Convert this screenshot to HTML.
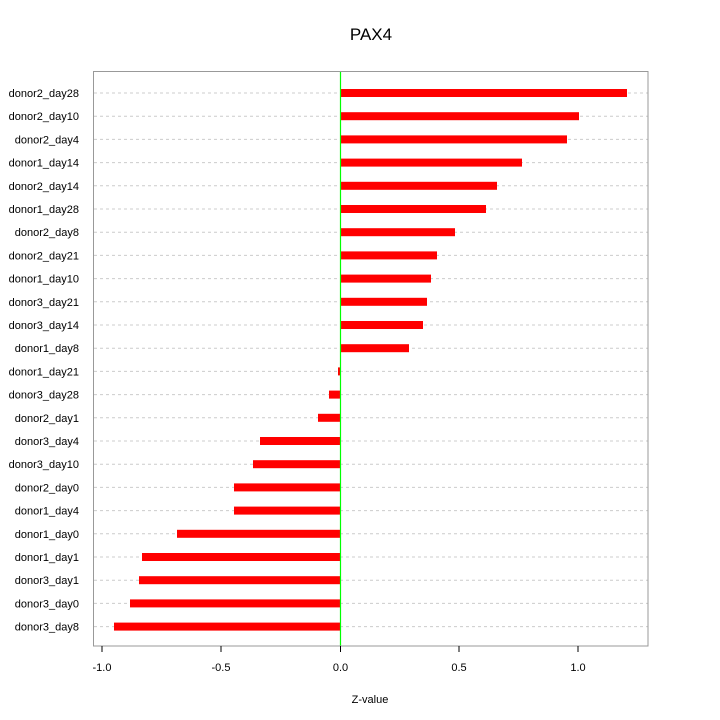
<!DOCTYPE html>
<html><head><style>body{margin:0;background:#fff}svg{display:block}text{font-family:"Liberation Sans",sans-serif}</style></head>
<body>
<svg width="720" height="720" xmlns="http://www.w3.org/2000/svg">
<text x="371" y="40" font-size="17" text-anchor="middle">PAX4</text>
<g stroke="#ccc" stroke-dasharray="3,3">
<line x1="94" x2="648" y1="93" y2="93"/><line x1="94" x2="648" y1="116.2" y2="116.2"/><line x1="94" x2="648" y1="139.4" y2="139.4"/><line x1="94" x2="648" y1="162.6" y2="162.6"/><line x1="94" x2="648" y1="185.8" y2="185.8"/><line x1="94" x2="648" y1="209" y2="209"/><line x1="94" x2="648" y1="232.2" y2="232.2"/><line x1="94" x2="648" y1="255.4" y2="255.4"/><line x1="94" x2="648" y1="278.6" y2="278.6"/><line x1="94" x2="648" y1="301.8" y2="301.8"/><line x1="94" x2="648" y1="325" y2="325"/><line x1="94" x2="648" y1="348.2" y2="348.2"/><line x1="94" x2="648" y1="371.4" y2="371.4"/><line x1="94" x2="648" y1="394.6" y2="394.6"/><line x1="94" x2="648" y1="417.8" y2="417.8"/><line x1="94" x2="648" y1="441" y2="441"/><line x1="94" x2="648" y1="464.2" y2="464.2"/><line x1="94" x2="648" y1="487.4" y2="487.4"/><line x1="94" x2="648" y1="510.6" y2="510.6"/><line x1="94" x2="648" y1="533.8" y2="533.8"/><line x1="94" x2="648" y1="557" y2="557"/><line x1="94" x2="648" y1="580.2" y2="580.2"/><line x1="94" x2="648" y1="603.4" y2="603.4"/><line x1="94" x2="648" y1="626.6" y2="626.6"/>
</g>
<g fill="#ff0000">
<rect x="341" y="89" width="286" height="8"/>
<rect x="341" y="112.2" width="238" height="8"/>
<rect x="341" y="135.4" width="226" height="8"/>
<rect x="341" y="158.6" width="181" height="8"/>
<rect x="341" y="181.8" width="156" height="8"/>
<rect x="341" y="205" width="145" height="8"/>
<rect x="341" y="228.2" width="114" height="8"/>
<rect x="341" y="251.4" width="96" height="8"/>
<rect x="341" y="274.6" width="90" height="8"/>
<rect x="341" y="297.8" width="86" height="8"/>
<rect x="341" y="321" width="82" height="8"/>
<rect x="341" y="344.2" width="68" height="8"/>
<rect x="338" y="367.4" width="3" height="8"/>
<rect x="329" y="390.6" width="12" height="8"/>
<rect x="318" y="413.8" width="23" height="8"/>
<rect x="260" y="437" width="81" height="8"/>
<rect x="253" y="460.2" width="88" height="8"/>
<rect x="234" y="483.4" width="107" height="8"/>
<rect x="234" y="506.6" width="107" height="8"/>
<rect x="177" y="529.8" width="164" height="8"/>
<rect x="142" y="553" width="199" height="8"/>
<rect x="139" y="576.2" width="202" height="8"/>
<rect x="130" y="599.4" width="211" height="8"/>
<rect x="114" y="622.6" width="227" height="8"/>
</g>
<g font-size="11" text-anchor="end">
<text x="79" y="97">donor2_day28</text><text x="79" y="120.2">donor2_day10</text><text x="79" y="143.4">donor2_day4</text><text x="79" y="166.6">donor1_day14</text><text x="79" y="189.8">donor2_day14</text><text x="79" y="213">donor1_day28</text><text x="79" y="236.2">donor2_day8</text><text x="79" y="259.4">donor2_day21</text><text x="79" y="282.6">donor1_day10</text><text x="79" y="305.8">donor3_day21</text><text x="79" y="329">donor3_day14</text><text x="79" y="352.2">donor1_day8</text><text x="79" y="375.4">donor1_day21</text><text x="79" y="398.6">donor3_day28</text><text x="79" y="421.8">donor2_day1</text><text x="79" y="445">donor3_day4</text><text x="79" y="468.2">donor3_day10</text><text x="79" y="491.4">donor2_day0</text><text x="79" y="514.6">donor1_day4</text><text x="79" y="537.8">donor1_day0</text><text x="79" y="561">donor1_day1</text><text x="79" y="584.2">donor3_day1</text><text x="79" y="607.4">donor3_day0</text><text x="79" y="630.6">donor3_day8</text>
</g>
<line x1="340.5" y1="71" x2="340.5" y2="646" stroke="#00ff00" stroke-width="1.2"/>
<rect x="93.5" y="71.5" width="554.5" height="574.5" fill="none" stroke="#999" stroke-width="1"/>
<g stroke="#000" stroke-width="1">
<line x1="102" y1="646" x2="102" y2="652"/><line x1="221" y1="646" x2="221" y2="652"/><line x1="340.5" y1="646" x2="340.5" y2="652"/><line x1="459" y1="646" x2="459" y2="652"/><line x1="578" y1="646" x2="578" y2="652"/>
</g>
<g font-size="11" text-anchor="middle">
<text x="102" y="671">-1.0</text><text x="221" y="671">-0.5</text><text x="340.5" y="671">0.0</text><text x="459" y="671">0.5</text><text x="578" y="671">1.0</text>
</g>
<text x="370" y="703" font-size="11" text-anchor="middle">Z-value</text>
</svg>
</body></html>
